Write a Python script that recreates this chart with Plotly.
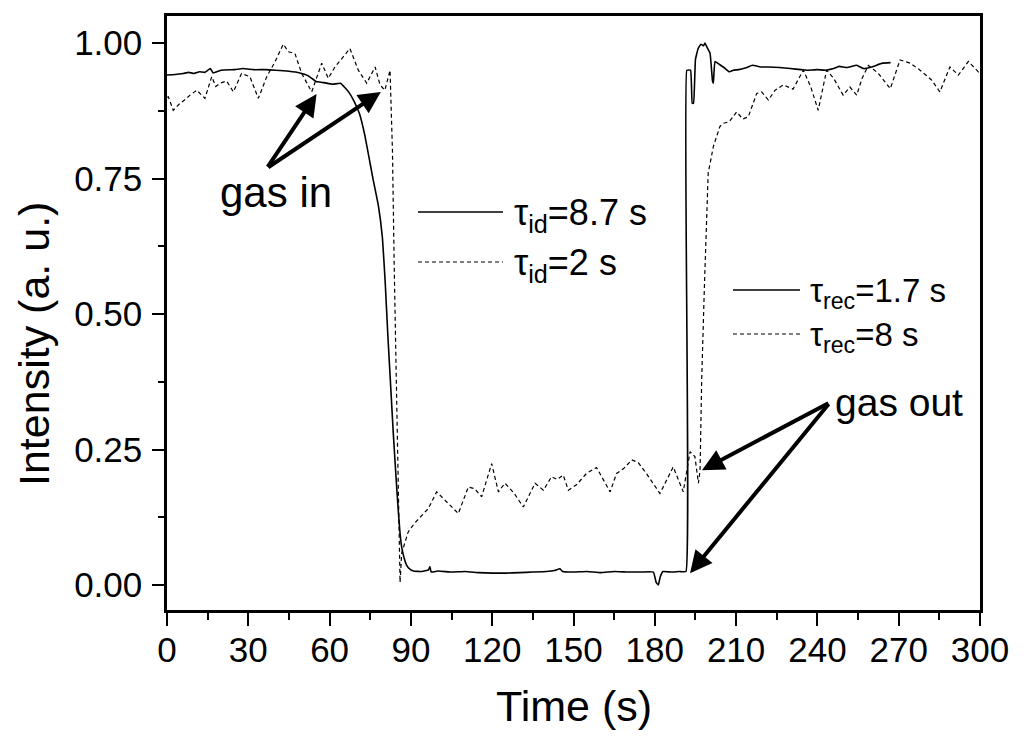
import plotly.graph_objects as go

# ---------------- data ----------------
solid_t = [0, 3, 6, 8, 10, 12, 14, 16, 17, 20, 25, 28, 32, 36, 40, 45, 49, 52, 55, 58, 61, 64, 67, 69,
           71, 73, 74.5, 76, 78, 79.5, 80.5, 81.5, 82.5, 83.5, 84.5, 85.3, 86, 86.6, 87.5, 88.4, 89.5,
           91, 94, 96.5, 97, 97.5, 100, 105, 110, 115, 120, 125, 130, 135, 140, 143, 145, 146, 150,
           155, 160, 165, 170, 175, 179.5, 180.5, 181.3, 182, 183, 186, 189, 191.5, 191.8, 193.2,
           193.8, 194.3, 195, 196, 197, 198, 198.5, 199.5, 200.4, 201.3, 201.6, 202.2, 204, 205.5,
           207.5, 209, 211, 214, 216, 219, 222, 226, 230, 234, 236, 240, 243, 246, 248, 251, 254.5,
           257, 260, 264, 267]
solid_y = [0.941, 0.942, 0.944, 0.946, 0.944, 0.947, 0.946, 0.953, 0.945, 0.950, 0.951, 0.953, 0.951,
           0.951, 0.950, 0.948, 0.945, 0.940, 0.929, 0.927, 0.924, 0.926, 0.910, 0.893, 0.870, 0.830,
           0.790, 0.750, 0.700, 0.640, 0.560, 0.460, 0.370, 0.280, 0.200, 0.140, 0.095, 0.070, 0.050,
           0.037, 0.030, 0.026, 0.025, 0.028, 0.034, 0.024, 0.026, 0.024, 0.025, 0.023, 0.022, 0.022,
           0.023, 0.024, 0.025, 0.027, 0.030, 0.025, 0.024, 0.025, 0.023, 0.025, 0.024, 0.024, 0.024,
           0.005, 0.000, 0.015, 0.025, 0.024, 0.025, 0.025, 0.950, 0.950, 0.889, 0.889, 0.970, 0.990,
           0.998, 0.995, 1.000, 0.990, 0.981, 0.930, 0.926, 0.966, 0.960, 0.955, 0.947, 0.950, 0.951,
           0.955, 0.959, 0.956, 0.956, 0.955, 0.953, 0.951, 0.950, 0.951, 0.950, 0.953, 0.957, 0.955,
           0.959, 0.953, 0.956, 0.963, 0.964]

dash_t = [0, 0.5, 2.3, 4.8, 6.5, 8.5, 11, 14, 16.5, 18, 19.6, 22, 24.5, 27.5, 30.6, 33.7, 36.8, 39.9,
          42.9, 44.8, 47.2, 49.7, 53.4, 57.1, 59.5, 62, 67.5, 70.6, 73.7, 76.8, 78.6, 80.4, 82.3, 83.2,
          83.8, 84.7, 85.4, 86, 86.6, 89, 91.5, 94, 96.4, 99.5, 102, 104.4, 107.5, 111.2, 113.5, 116.1,
          119.8, 122.3, 124.7, 128, 131.5, 135.8, 138.9, 141.9, 144, 146.2, 148.1, 151.1, 154.8, 158.5,
          161, 163.5, 165.9, 168.5, 171.5, 173.9, 177, 181.9, 184, 186.8, 190.5, 191.5, 193, 194.8,
          196.1, 196.7, 197.3, 198.3, 199.1, 199.7, 201.6, 204, 205.3, 207.5, 210.2, 212.5, 214.5,
          217.6, 219.4, 221.9, 224.4, 227.4, 231, 234.8, 237.5, 240.3, 243.4, 246, 249.5, 252, 254.5,
          256.5, 258.8, 262.5, 266.9, 270.5, 274.2, 277.9, 282.1, 285.2, 288.9, 292, 295.7, 299.4, 300]
dash_y = [0.900, 0.901, 0.876, 0.889, 0.895, 0.904, 0.913, 0.898, 0.938, 0.920, 0.926, 0.930, 0.910,
          0.944, 0.938, 0.898, 0.938, 0.966, 0.998, 0.984, 0.981, 0.944, 0.910, 0.963, 0.935, 0.956,
          0.990, 0.950, 0.926, 0.956, 0.923, 0.913, 0.950, 0.800, 0.600, 0.378, 0.150, 0.005, 0.059,
          0.098, 0.115, 0.129, 0.141, 0.172, 0.160, 0.148, 0.132, 0.181, 0.178, 0.163, 0.224, 0.172,
          0.188, 0.170, 0.144, 0.188, 0.175, 0.200, 0.195, 0.203, 0.175, 0.185, 0.206, 0.217, 0.195,
          0.172, 0.206, 0.215, 0.231, 0.226, 0.205, 0.169, 0.190, 0.218, 0.172, 0.200, 0.246, 0.237,
          0.188, 0.212, 0.378, 0.550, 0.673, 0.760, 0.809, 0.846, 0.852, 0.855, 0.873, 0.860, 0.864,
          0.907, 0.910, 0.895, 0.913, 0.923, 0.915, 0.950, 0.920, 0.876, 0.950, 0.935, 0.904, 0.919,
          0.904, 0.935, 0.959, 0.944, 0.916, 0.969, 0.963, 0.950, 0.932, 0.910, 0.956, 0.941, 0.966,
          0.947, 0.950]

x_ticks = [0, 30, 60, 90, 120, 150, 180, 210, 240, 270, 300]
y_ticks = [0.00, 0.25, 0.50, 0.75, 1.00]

legend_id = ["τ<sub>id</sub>=8.7 s", "τ<sub>id</sub>=2 s"]
legend_rec = ["τ<sub>rec</sub>=1.7 s", "τ<sub>rec</sub>=8 s"]

# arrows: (head_t, head_y, tail_t, tail_y)
arrows_in = [(55.2, 0.906, 36.8, 0.769), (78.9, 0.910, 36.8, 0.769)]
arrows_out = [(197.4, 0.212, 244.6, 0.337), (193.0, 0.022, 244.6, 0.337)]

FONT = "Liberation Sans, Arial, sans-serif"

# page body has an 8px margin; plot area target in page pixels: x 167..980, y 16..610
OFF = 8
PL, PR, PT, PB = 167, 980, 16, 610
W, H = PR - PL, PB - PT


def px(xp):
    return (xp - PL) / W


def py(yp):
    return (PB - yp) / H


fig = go.Figure()
fig.add_trace(go.Scatter(x=solid_t, y=solid_y, mode="lines", line_shape="spline",
                         line=dict(color="black", width=1.6, smoothing=0.3), showlegend=False))
fig.add_trace(go.Scatter(x=dash_t, y=dash_y, mode="lines",
                         line=dict(color="black", width=1.2, dash="4px,3px"), showlegend=False))

annotations = []
for hx, hy, tx, ty in arrows_in + arrows_out:
    annotations.append(dict(x=hx, y=hy, ax=tx, ay=ty, xref="x", yref="y", axref="x", ayref="y",
                            text="", showarrow=True, arrowhead=2, arrowsize=1.1, arrowwidth=4,
                            arrowcolor="black", standoff=0, startstandoff=0))


def label(xp, yp, text, size, **kw):
    d = dict(x=px(xp), y=py(yp), xref="paper", yref="paper", text=text, showarrow=False,
             xanchor="center", yanchor="middle",
             font=dict(size=size, color="black", family=FONT))
    d.update(kw)
    annotations.append(d)


label(276, 192, "gas in", 42)
label(899, 402, "gas out", 39)

shapes = []
for i, (yy, dash) in enumerate([(212, "solid"), (262, "4px,3px")]):
    shapes.append(dict(type="line", xref="paper", yref="paper", x0=px(418), x1=px(503),
                       y0=py(yy), y1=py(yy),
                       line=dict(color="black", width=1.6 if dash == "solid" else 1.2, dash=dash)))
    label(512, yy + 3, legend_id[i], 36, xanchor="left")
for i, (yy, dash) in enumerate([(290, "solid"), (334, "4px,3px")]):
    shapes.append(dict(type="line", xref="paper", yref="paper", x0=px(733), x1=px(800),
                       y0=py(yy), y1=py(yy),
                       line=dict(color="black", width=1.6 if dash == "solid" else 1.2, dash=dash)))
    label(808, yy + 3, legend_rec[i], 33, xanchor="left")

# axis titles
label(34, 344, "Intensity (a. u.)", 43, textangle=-90)
label(573.5, 706, "Time (s)", 43)

fig.update_layout(
    width=1024, height=742,
    margin=dict(l=PL - OFF, r=1024 - PR + OFF, t=PT - OFF, b=742 - PB + OFF, autoexpand=False),
    paper_bgcolor="white", plot_bgcolor="white",
    font=dict(family=FONT, color="black"),
    shapes=shapes, annotations=annotations,
    showlegend=False,
)
fig.update_xaxes(range=[0, 300], tickvals=x_ticks, ticks="outside", ticklen=13, tickwidth=2,
                 tickcolor="black", showline=True, linewidth=2.5, linecolor="black", mirror=True,
                 showgrid=False, zeroline=False, tickfont=dict(size=35, family=FONT),
                 ticklabelstandoff=-6, automargin=False,
                 minor=dict(dtick=15, ticks="outside", ticklen=7, tickwidth=2, tickcolor="black",
                            showgrid=False))
fig.update_yaxes(range=[-0.046, 1.05], tickvals=y_ticks, tickformat=".2f", ticks="outside",
                 ticklen=12, tickwidth=2, tickcolor="black", showline=True, linewidth=2.5,
                 linecolor="black", mirror=True, showgrid=False, zeroline=False,
                 tickfont=dict(size=35, family=FONT), ticklabelstandoff=3, automargin=False,
                 minor=dict(dtick=0.125, tick0=0, ticks="outside", ticklen=6, tickwidth=2,
                            tickcolor="black", showgrid=False))

fig.write_html("out.html")
